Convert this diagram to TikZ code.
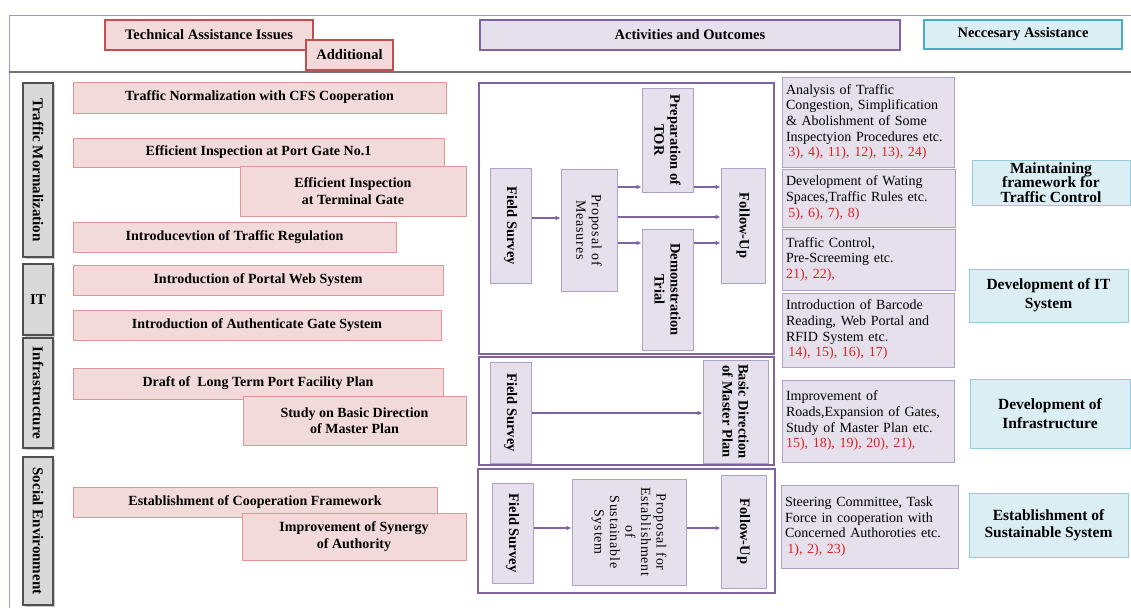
\documentclass[tikz,border=0pt]{standalone}
\usepackage{fontspec}
\setmainfont{Liberation Serif}
\newfontfamily\widefont[LetterSpace=6]{Liberation Serif}
\usetikzlibrary{arrows.meta}
\usetikzlibrary{shadows}

\definecolor{issuefill}{RGB}{242,218,218}
\definecolor{issuedraw}{RGB}{222,150,150}
\definecolor{issuered}{RGB}{192,80,77}
\definecolor{catfill}{RGB}{217,217,217}
\definecolor{catdraw}{RGB}{80,80,80}
\definecolor{actfill}{RGB}{229,224,236}
\definecolor{actdraw}{RGB}{128,100,162}
\definecolor{actline}{RGB}{175,160,200}
\definecolor{necfill}{RGB}{219,238,244}
\definecolor{necdraw}{RGB}{147,205,221}
\definecolor{necteal}{RGB}{75,172,198}
\definecolor{numred}{RGB}{220,35,35}
\definecolor{frameblue}{RGB}{150,150,230}

\newcommand{\nums}[1]{\textcolor{numred}{#1}}

\tikzstyle{outer_line}=[draw=frameblue, line width=1pt]
\tikzstyle{head_line}=[draw=black!55, line width=1.6pt]
\tikzstyle{issue_box}=[rectangle, fill=issuefill, draw=issuedraw, line width=1pt, inner sep=1pt, align=center,
    font=\fontsize{14}{16.5}\selectfont\bfseries]
\tikzstyle{head_red}=[draw=issuered, line width=2pt, font=\fontsize{14.5}{16}\selectfont\bfseries]
\tikzstyle{cat_box}=[rectangle, fill=catfill, draw=catdraw, line width=1.2pt, inner sep=1pt,
    font=\fontsize{15}{16}\selectfont\bfseries, drop shadow={shadow xshift=1.5pt, shadow yshift=-1.5pt, fill=black!40}]
\tikzstyle{frame_box}=[draw=actdraw, line width=2pt]
\tikzstyle{step_box}=[rectangle, fill=actfill, draw=actline, line width=1pt, inner sep=1pt, align=center,
    rotate=-90, font=\fontsize{14.5}{16}\selectfont\bfseries]
\tikzstyle{plain_text}=[font=\fontsize{14}{15.5}\selectfont\widefont]
\tikzstyle{flow_arrow}=[draw=actdraw, line width=1.2pt, -{Latex[length=5pt, width=5pt]}]
\tikzstyle{act_head}=[rectangle, fill=actfill, draw=actdraw, line width=2pt, font=\fontsize{14.5}{16}\selectfont\bfseries]
\tikzstyle{out_box}=[rectangle, fill=actfill, draw=actline, line width=1pt, inner xsep=4pt, inner ysep=1pt, align=left,
    font=\fontsize{14}{15.7}\selectfont]
\tikzstyle{nec_box}=[rectangle, fill=necfill, draw=necdraw, line width=1pt, inner sep=0pt, align=center,
    font=\fontsize{15.5}{14.5}\selectfont\bfseries]
\tikzstyle{nec_wide}=[font=\fontsize{15.5}{19}\selectfont\bfseries]
\tikzstyle{nec_head}=[draw=necteal, line width=2pt, font=\fontsize{14.5}{16}\selectfont\bfseries]

\begin{document}
\begin{tikzpicture}[x=1pt, y=-1pt]
\useasboundingbox (0,0) rectangle (1131,608);
\fill[white] (0,0) rectangle (1131,608);

% frame and header rule
\draw[outer_line] (1131,15) -- (9,15) -- (9,608);
\draw[head_line] (9,72) -- (1131,72);

% headings
\node[issue_box, head_red, minimum width=208pt, minimum height=30pt] (head_issue) at (209,35) {Technical Assistance Issues};
\node[issue_box, head_red, minimum width=87pt, minimum height=30pt] (head_add) at (349.5,55) {Additional};
\node[act_head, minimum width=420pt, minimum height=30pt] (head_act) at (690,35) {Activities and Outcomes};
\node[issue_box, fill=necfill, nec_head, minimum width=198pt, minimum height=29pt] (head_nec) at (1023,34.5) {Neccesary Assistance};

% categories
\node[cat_box, rotate=-90, minimum width=174pt, minimum height=30pt] (cat_traffic) at (38,170) {Traffic Mormalization};
\node[cat_box, minimum width=30pt, minimum height=71pt] (cat_it) at (38,299.5) {IT};
\node[cat_box, rotate=-90, minimum width=110pt, minimum height=30pt] (cat_infra) at (38,393) {Infrastructure};
\node[cat_box, rotate=-90, minimum width=148pt, minimum height=30pt] (cat_social) at (38,531) {Social Environment};

% issues
\node[issue_box, minimum width=373pt, minimum height=31pt] (iss_cfs) at (259.5,97.5) {Traffic Normalization with CFS Cooperation};
\node[issue_box, minimum width=371pt, minimum height=29pt] (iss_port) at (258.5,152.5) {Efficient Inspection at Port Gate No.1};
\node[issue_box, minimum width=226pt, minimum height=50pt] (iss_term) at (353,191) {Efficient Inspection\\at Terminal Gate};
\node[issue_box, minimum width=323pt, minimum height=30pt] (iss_reg) at (234.5,237) {Introducevtion of Traffic Regulation};
\node[issue_box, minimum width=370pt, minimum height=30pt] (iss_web) at (258,280) {Introduction of Portal Web System};
\node[issue_box, minimum width=368pt, minimum height=30pt] (iss_auth) at (257,325) {Introduction of Authenticate Gate System};
\node[issue_box, minimum width=370pt, minimum height=31pt] (iss_draft) at (258,383.5) {Draft of \ Long Term Port Facility Plan};
\node[issue_box, minimum width=223pt, minimum height=49pt] (iss_study) at (354.5,420.5) {Study on Basic Direction\\of Master Plan};
\node[issue_box, minimum width=364pt, minimum height=30pt] (iss_coop) at (255,502) {Establishment of Cooperation Framework};
\node[issue_box, minimum width=224pt, minimum height=47pt] (iss_syn) at (354,536.5) {Improvement of Synergy\\of Authority};

% activities
\draw[frame_box] (479,83) rectangle (774,354);
\draw[frame_box] (479,357) rectangle (774,465);
\draw[frame_box] (478,469) rectangle (775,593);

\node[step_box, minimum width=115pt, minimum height=41pt] (fs_a) at (510.5,225.5) {Field Survey};
\node[step_box, plain_text, minimum width=122pt, minimum height=56pt] (prop_a) at (589,230) {Proposal of\\Measures};
\node[step_box, minimum width=104pt, minimum height=51pt] (tor_a) at (667.5,140) {Preparation of\\TOR};
\node[step_box, minimum width=121pt, minimum height=51pt] (demo_a) at (667.5,289.5) {Demonstration\\Trial};
\node[step_box, minimum width=115pt, minimum height=44pt] (fu_a) at (743,225.5) {Follow-Up};
\draw[flow_arrow] (fs_a.north |- 0,218) -- (prop_a.south |- 0,218);
\draw[flow_arrow] (prop_a.north |- 0,187) -- (tor_a.south |- 0,187);
\draw[flow_arrow] (prop_a.north |- 0,217) -- (fu_a.south |- 0,217);
\draw[flow_arrow] (prop_a.north |- 0,243) -- (demo_a.south |- 0,243);
\draw[flow_arrow] (tor_a.north |- 0,187) -- (fu_a.south |- 0,187);
\draw[flow_arrow] (demo_a.north |- 0,243) -- (fu_a.south |- 0,243);

\node[step_box, minimum width=101pt, minimum height=41pt] (fs_b) at (510.5,412.5) {Field Survey};
\node[step_box, minimum width=103pt, minimum height=65pt] (bdm_b) at (735.5,411.5) {Basic Direction\\of Master Plan};
\draw[flow_arrow] (fs_b.north |- 0,413) -- (bdm_b.south |- 0,413);

\node[step_box, minimum width=100pt, minimum height=41pt] (fs_c) at (512.5,533) {Field Survey};
\node[step_box, plain_text, minimum width=106pt, minimum height=114pt] (prop_c) at (629,532) {Proposal for\\Establishment\\of\\Sustainable\\System};
\node[step_box, minimum width=113pt, minimum height=45pt] (fu_c) at (743.5,531.5) {Follow-Up};
\draw[flow_arrow] (fs_c.north |- 0,528) -- (prop_c.south |- 0,528);
\draw[flow_arrow] (prop_c.north |- 0,528) -- (fu_c.south |- 0,528);

% outcomes
\node[out_box, text width=164pt, minimum height=90pt] (out_cong) at (868,122) {Analysis of Traffic\\Congestion, Simplification\\\& Abolishment of Some\\Inspectyion Procedures etc.\\\nums{\,3), 4), 11), 12), 13), 24)}};
\node[out_box, text width=165pt, minimum height=58pt] (out_wait) at (868.5,198) {Development of Wating\\Spaces,Traffic Rules etc.\\\nums{\,5), 6), 7), 8)}};
\node[out_box, text width=165pt, minimum height=61pt] (out_ctrl) at (868.5,259.5) {Traffic Control,\\Pre-Screeming etc.\\\nums{21), 22),}};
\node[out_box, text width=164pt, minimum height=74pt] (out_rfid) at (868,330) {Introduction of Barcode\\Reading, Web Portal and\\RFID System etc.\\\nums{\,14), 15), 16), 17)}};
\node[out_box, text width=164pt, minimum height=82pt] (out_road) at (868,421) {Improvement of\\Roads,Expansion of Gates,\\Study of Master Plan etc.\\\nums{15), 18), 19), 20), 21),}\par\vspace*{9pt}};
\node[out_box, text width=169pt, minimum height=83pt] (out_comm) at (869.5,526.5) {Steering Committee, Task\\Force in cooperation with\\Concerned Authoroties etc.\\\nums{\,1), 2), 23)}\par\vspace*{18pt}};

% necessary assistance
\node[nec_box, minimum width=158pt, minimum height=45pt] (nec_traffic) at (1051,182.5) {Maintaining\\framework for\\Traffic Control};
\node[nec_box, nec_wide, minimum width=159pt, minimum height=53pt] (nec_it) at (1048.5,295.5) {Development of IT\\System};
\node[nec_box, nec_wide, minimum width=160pt, minimum height=69pt] (nec_infra) at (1050,413.5) {Development of\\Infrastructure};
\node[nec_box, minimum width=159pt, minimum height=64pt, font=\fontsize{15.5}{16.5}\selectfont\bfseries] (nec_sust) at (1048.5,525) {Establishment of\\Sustainable System};
\end{tikzpicture}
\end{document}
